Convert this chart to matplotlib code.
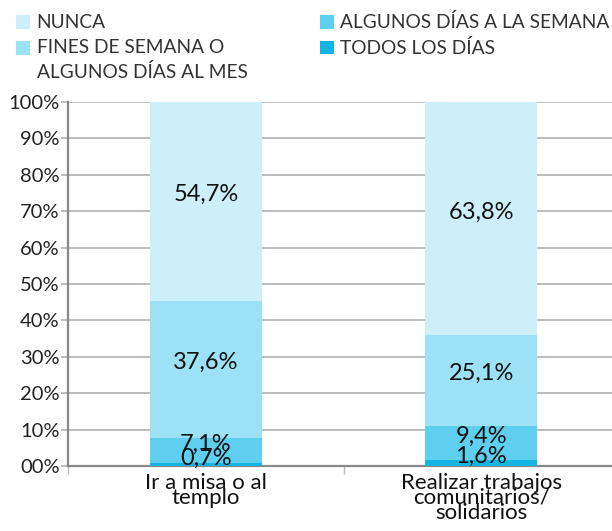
import matplotlib
matplotlib.use("Agg")
import matplotlib.pyplot as plt
import numpy as np
from matplotlib.patches import Rectangle
from matplotlib.legend_handler import HandlerPatch
from matplotlib.ticker import FixedLocator

plt.rcParams["font.family"] = ["Lato", "DejaVu Sans"]

categories = ["Ir a misa o al\ntemplo", "Realizar trabajos\ncomunitarios/\nsolidarios"]
series_names = ["TODOS LOS DÍAS", "ALGUNOS DÍAS A LA SEMANA",
                "FINES DE SEMANA O\nALGUNOS DÍAS AL MES", "NUNCA"]
todos = [0.7, 1.6]
algunos_semana = [7.1, 9.4]
fines_semana = [37.6, 25.1]
nunca = [54.7, 63.8]
yticks = [0, 10, 20, 30, 40, 50, 60, 70, 80, 90, 100]

colors = ["#14B5E3", "#5ECFEE", "#9CE1F5", "#CDEFF9"]
series = [todos, algunos_semana, fines_semana, nunca]


class TopHandler(HandlerPatch):
    """legend square aligned with the first line of a 2-line label"""

    def __init__(self, shift, **kw):
        super().__init__(**kw)
        self.shift = shift

    def create_artists(self, legend, orig_handle, xdescent, ydescent,
                       width, height, fontsize, trans):
        p = Rectangle((-xdescent, -ydescent + self.shift), width, height)
        self.update_prop(p, orig_handle, legend)
        p.set_transform(trans)
        return [p]


fig = plt.figure(figsize=(6.12, 5.31), dpi=100)
ax = fig.add_axes([0.111, 0.1224, 0.889, 0.6856])

x = np.arange(len(categories))
bottom = np.zeros(len(categories))
proxies = {}
for name, vals, col in zip(series_names, series, colors):
    vals = np.array(vals)
    ax.bar(x, vals, 0.41, bottom=bottom, color=col, zorder=3)
    proxies[name] = Rectangle((0, 0), 1, 1, facecolor=col, edgecolor="none")
    for xi, v, b0 in zip(x, vals, bottom):
        ax.text(xi, b0 + v / 2, f"{v:.1f}%".replace(".", ","), ha="center",
                va="baseline", fontsize=17, color="#111111", zorder=4)
    bottom = bottom + vals

ax.set_xlim(-0.502, 1.476)
ax.set_ylim(0, 100)
ax.set_yticks(yticks)
ax.set_yticklabels([f"{v:02d}%" for v in yticks], fontsize=14.5, color="#222222")
ax.yaxis.grid(True, color="#aaaaaa", lw=1.1, zorder=0)
ax.tick_params(axis="y", length=5, width=1.1, color="#aaaaaa", pad=1)

ax.xaxis.set_major_locator(FixedLocator([-0.5, 0.5, 1.5]))
ax.set_xticklabels([])
ax.xaxis.set_minor_locator(FixedLocator(x))
ax.set_xticklabels(categories, minor=True, fontsize=16, linespacing=0.68,
                   color="#111111")
ax.tick_params(axis="x", which="major", length=6, width=1, color="#bbbbbb")
ax.tick_params(axis="x", which="minor", length=0, pad=5)

for s in ["top", "right"]:
    ax.spines[s].set_visible(False)
for s in ["left", "bottom"]:
    ax.spines[s].set_color("#888888")
    ax.spines[s].set_linewidth(1.6)

order = ["NUNCA", "FINES DE SEMANA O\nALGUNOS DÍAS AL MES",
         "ALGUNOS DÍAS A LA SEMANA", "TODOS LOS DÍAS"]
leg = fig.legend([proxies[n] for n in order], order, ncol=2, loc="upper left",
                 bbox_to_anchor=(0.005, 1.0), frameon=False,
                 handlelength=0.72, handleheight=0.72, handletextpad=0.33,
                 columnspacing=3.8, labelspacing=0.4, borderaxespad=0.3,
                 handler_map={proxies[order[1]]: TopHandler(9)},
                 prop={"family": ["Lato", "DejaVu Sans"], "size": 13.8})
for t in leg.get_texts():
    t.set_color("#333333")
    t.set_linespacing(1.47)

fig.savefig("out.png", dpi=100)
